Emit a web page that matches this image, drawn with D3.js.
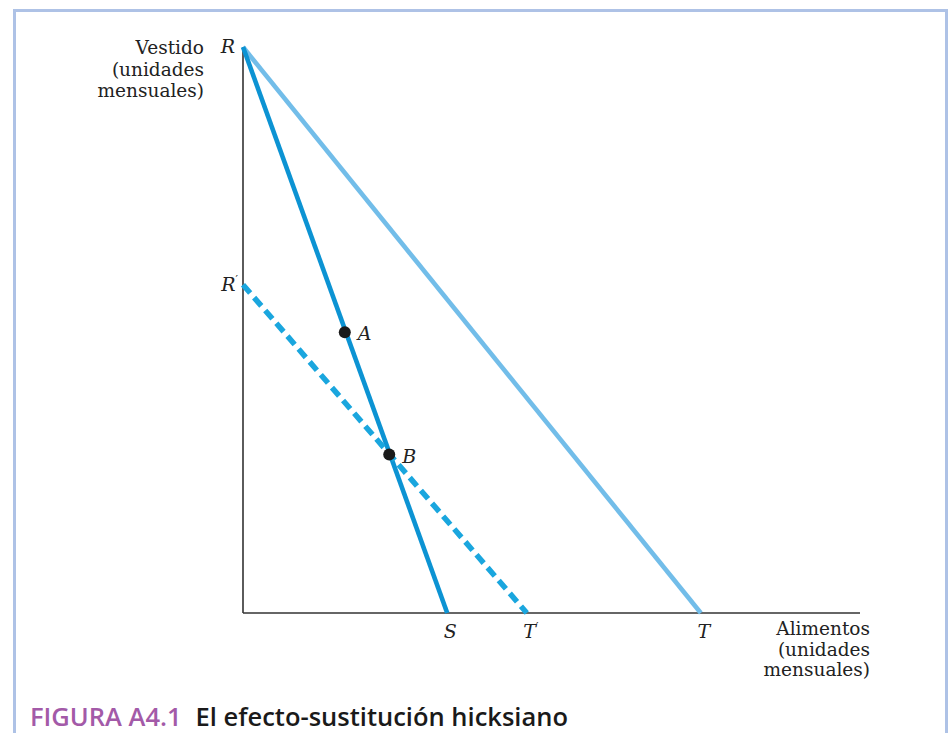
<!DOCTYPE html>
<html>
<head>
<meta charset="utf-8">
<script src="https://cdn.jsdelivr.net/npm/d3@7"></script>
<style>
  body { margin: 0; background: #fff; }
  svg { display: block; }
</style>
</head>
<body>
<svg id="chart"></svg>
<script>
// Hicksian substitution effect - budget lines and points

const width = 951, height = 733;

// budget lines: [x, y] endpoints in chart units (0-100)
const lineNames = ["RT", "RS", "R'T'"];
const lineStart = [[0, 100], [0, 100], [0, 58]];
const lineEnd = [[74.2, 0], [33.1, 0], [46.0, 0]];

// points on the lines
const pointNames = ["A", "B"];
const pointX = [16.5, 23.7];
const pointY = [49.6, 28.0];

// axis labels for the intercepts
const yLabels = [{ name: "R", v: 100, prime: false }, { name: "R", v: 58, prime: true }];
const xLabels = [{ name: "S", v: 33.1, prime: false }, { name: "T", v: 46.0, prime: true }, { name: "T", v: 74.2, prime: false }];

const svg = d3.select("#chart")
    .attr("width", width)
    .attr("height", height);

// frame
svg.append("rect")
    .attr("x", 14.5).attr("y", 10.5)
    .attr("width", 932).attr("height", 740)
    .attr("fill", "none")
    .attr("stroke", "#aec2e6")
    .attr("stroke-width", 3);

const x = d3.scaleLinear().domain([0, 100]).range([243, 860]);
const y = d3.scaleLinear().domain([0, 100]).range([613, 47]);

const serif = "'DejaVu Serif', 'Liberation Serif', serif";

// axes
svg.append("line")
    .attr("x1", x(0)).attr("y1", y(0))
    .attr("x2", x(100)).attr("y2", y(0))
    .attr("stroke", "#333").attr("stroke-width", 1.6);
svg.append("line")
    .attr("x1", x(0)).attr("y1", y(0))
    .attr("x2", x(0)).attr("y2", y(100))
    .attr("stroke", "#333").attr("stroke-width", 1.6);

// lines
const styles = {
    "RT": { color: "#72bde9", dash: null, w: 4.6 },
    "RS": { color: "#0c93d3", dash: null, w: 4.6 },
    "R'T'": { color: "#1aa6de", dash: "11,6", w: 5.5 }
};

lineNames.forEach((n, i) => {
    svg.append("line")
        .attr("x1", x(lineStart[i][0])).attr("y1", y(lineStart[i][1]))
        .attr("x2", x(lineEnd[i][0])).attr("y2", y(lineEnd[i][1]))
        .attr("stroke", styles[n].color)
        .attr("stroke-width", styles[n].w)
        .attr("stroke-dasharray", styles[n].dash);
});

// points
pointNames.forEach((n, i) => {
    svg.append("circle")
        .attr("cx", x(pointX[i])).attr("cy", y(pointY[i]))
        .attr("r", 6)
        .attr("fill", "#1a1a1a");
    svg.append("text")
        .attr("x", x(pointX[i]) + 13).attr("y", y(pointY[i]) + 8)
        .attr("font-family", serif)
        .attr("font-style", "italic")
        .attr("font-size", 19)
        .attr("fill", "#222")
        .text(n);
});

// intercept labels
yLabels.forEach(d => {
    const t = svg.append("text")
        .attr("x", x(0) - (d.prime ? 5 : 8)).attr("y", y(d.v) + 6)
        .attr("text-anchor", "end")
        .attr("font-family", serif)
        .attr("font-style", "italic")
        .attr("font-size", 19)
        .attr("fill", "#222");
    t.append("tspan").text(d.name);
    if (d.prime) t.append("tspan").attr("dy", -8).attr("font-size", 11).attr("font-style", "normal").text("\u2032");
});

xLabels.forEach(d => {
    const t = svg.append("text")
        .attr("x", x(d.v) + (d.prime ? 4 : 3)).attr("y", y(0) + 25)
        .attr("text-anchor", "middle")
        .attr("font-family", serif)
        .attr("font-style", "italic")
        .attr("font-size", 19)
        .attr("fill", "#222");
    t.append("tspan").text(d.name);
    if (d.prime) t.append("tspan").attr("dy", -8).attr("font-size", 11).attr("font-style", "normal").text("\u2032");
});

// axis titles
const yTitle = ["Vestido", "(unidades", "mensuales)"];
const xTitle = ["Alimentos", "(unidades", "mensuales)"];

svg.append("text")
    .attr("text-anchor", "end")
    .attr("font-family", serif)
    .attr("font-size", 18.5)
    .attr("fill", "#222")
    .selectAll("tspan")
    .data(yTitle)
    .enter().append("tspan")
    .attr("x", 204)
    .attr("y", (d, i) => 54 + i * 21.5)
    .text(d => d);

svg.append("text")
    .attr("text-anchor", "end")
    .attr("font-family", serif)
    .attr("font-size", 18.5)
    .attr("fill", "#222")
    .selectAll("tspan")
    .data(xTitle)
    .enter().append("tspan")
    .attr("x", 870)
    .attr("y", (d, i) => 635 + i * 20.5)
    .text(d => d);

// figure caption
const caption = svg.append("text")
    .attr("x", 30).attr("y", 726)
    .attr("font-family", "'Open Sans', 'Noto Sans', sans-serif")
    .attr("font-weight", 600)
    .attr("font-size", 25.5);
caption.append("tspan").attr("fill", "#a35aa8").text("FIGURA A4.1");
caption.append("tspan").attr("dx", 14).attr("fill", "#1a1a1a").text("El efecto-sustitución hicksiano");
</script>
</body>
</html>
